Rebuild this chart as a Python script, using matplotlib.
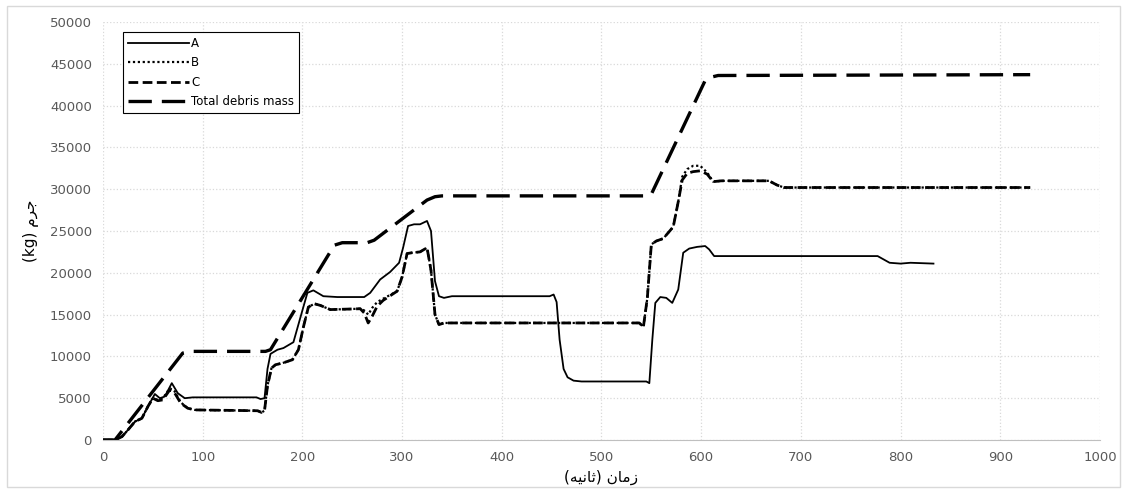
import matplotlib
matplotlib.use("Agg")
import matplotlib.pyplot as plt
from matplotlib.patches import Rectangle

# --- data ---
a_x = [0, 12, 19, 25, 32, 39, 45, 52, 57, 62, 69, 75, 82, 90, 154, 158, 162, 165, 168, 175,
       181, 191, 200, 205, 211, 221, 235, 262, 268, 278, 288, 297, 301, 306, 312, 318, 325, 329, 333, 337,
       342, 350, 448, 452, 455, 458, 462, 466, 472, 480, 545, 548, 551, 554, 559, 565, 571, 577, 582, 588,
       596, 604, 608, 613, 620, 777, 783, 789, 800, 810, 833]
a_y = [0, 0, 400, 1200, 2200, 2600, 4000, 5500, 5000, 5200, 6800, 5600, 5000, 5100, 5100, 4900, 5000, 8500, 10300, 10800,
       11000, 11700, 15500, 17600, 17900, 17200, 17100, 17100, 17600, 19200, 20100, 21200, 23000, 25600, 25800, 25800, 26200, 25000, 19000, 17200,
       17000, 17200, 17200, 17400, 16500, 12000, 8500, 7500, 7100, 7000, 7000, 6800, 12000, 16400, 17100, 17000, 16400, 18000, 22400, 22900,
       23100, 23200, 22800, 22000, 22000, 22000, 21600, 21200, 21100, 21200, 21100]

bc_x = [0, 12, 19, 25, 32, 39, 45, 50, 55, 60, 67, 72, 78, 85, 92, 155, 159, 162, 165, 169,
        173, 180, 190, 196, 201, 206, 212, 218, 228, 258, 262, 266, 270, 275, 281, 295, 300, 305, 310, 318,
        325, 329, 333, 337, 342, 350, 538, 542, 546, 550, 555, 562, 572, 577, 581, 586, 592, 599, 606, 612,
        620, 668, 676, 683, 930]
c_y = [0, 0, 400, 1200, 2200, 2600, 4000, 5000, 4700, 4800, 6000, 5600, 4400, 3800, 3600, 3500, 3300, 3500, 6500, 8600,
       9000, 9200, 9600, 10800, 13500, 15900, 16300, 16100, 15600, 15700, 15200, 14000, 14800, 16000, 16700, 17800, 19500, 22300, 22400, 22500,
       23000, 20300, 15000, 13800, 14000, 14000, 14000, 13500, 17000, 23400, 23800, 24100, 25500, 28500, 31100, 31900, 32100, 32200, 31800, 30900,
       31000, 31000, 30500, 30200, 30200]
b_y = [0, 0, 400, 1200, 2200, 2600, 4000, 5000, 4800, 5000, 6200, 5800, 4500, 3800, 3600, 3500, 3300, 3500, 6500, 8600,
       9000, 9200, 9600, 10800, 13500, 15900, 16300, 16100, 15600, 15700, 15500, 15000, 15800, 16500, 16900, 17800, 19500, 22300, 22400, 22500,
       23000, 20300, 15000, 13800, 14000, 14000, 14000, 13500, 17000, 23400, 23800, 24100, 25500, 28500, 31500, 32400, 32800, 32800, 32000, 30900,
       31000, 31000, 30500, 30200, 30200]

t_x = [0, 12, 80, 88, 163, 168, 232, 240, 265, 272, 325, 333, 340, 545, 550, 604, 610, 617, 930]
t_y = [0, 0, 10400, 10600, 10600, 10800, 23300, 23600, 23600, 23900, 28700, 29100, 29200, 29200, 29400, 43000, 43400, 43600, 43700]

# Persian labels, shaped by hand (presentation forms, visual order)
xlabel = "(\uFEEA\uFBFF\uFEE7\uFE8E\uFE9B) \uFEE5\uFE8E\uFEE3\uFEAF"   # زمان (ثانیه)
ylabel = "(kg) \uFEE1\uFEAE\uFE9F"                                   # جرم (kg)

plt.rcParams['font.family'] = ['DejaVu Sans']

fig = plt.figure(figsize=(11.27, 4.93), dpi=100)
ax = fig.add_axes([0.0914, 0.1075, 0.8846, 0.8479])

ax.plot(a_x, a_y, color='black', lw=1.3, ls='-', label='A')
ax.plot(bc_x, b_y, color='black', lw=1.6, ls=(0, (1, 1.2)), label='B')
ax.plot(bc_x, c_y, color='black', lw=2.0, ls=(0, (3.5, 1.6)), label='C')
ax.plot(t_x, t_y, color='black', lw=2.4, ls=(0, (7, 3.0)), label='Total debris mass')

ax.set_xlim(0, 1000)
ax.set_ylim(0, 50000)
ax.set_xticks(range(0, 1001, 100))
ax.set_yticks(range(0, 50001, 5000))
ax.grid(True, color='#d9d9d9', ls=':', lw=0.9)
ax.set_axisbelow(True)
for s in ['top', 'right', 'left']:
    ax.spines[s].set_visible(False)
ax.spines['bottom'].set_color('#bfbfbf')
ax.tick_params(length=0, labelsize=9.5, labelcolor='#595959', pad=8)

ax.set_xlabel(xlabel, fontsize=11, labelpad=4)
ax.set_ylabel(ylabel, fontsize=11, labelpad=8)

leg = ax.legend(loc='upper left', bbox_to_anchor=(0.014, 0.99), fontsize=8.5,
                frameon=True, fancybox=False, framealpha=1, edgecolor='black',
                handlelength=5.2, handletextpad=0.2, labelspacing=0.55, borderpad=0.4)
leg.get_frame().set_linewidth(0.8)

fig.patches.append(Rectangle((0.006, 0.012), 0.988, 0.976, transform=fig.transFigure,
                             fill=False, edgecolor='#d9d9d9', lw=1))

fig.savefig('out.png', dpi=100)
